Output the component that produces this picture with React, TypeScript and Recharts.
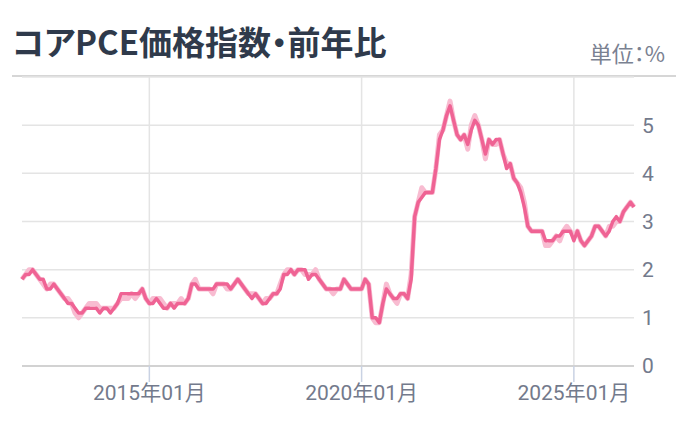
import React from 'react';
import { LineChart, Line, XAxis, YAxis, CartesianGrid, ReferenceLine } from 'recharts';

// Monthly categories: 2012-01 .. 2026-06
const START_YEAR = 2012;
const MONTH_COUNT = 174;
const months: string[] = [];
for (let i = 0; i < MONTH_COUNT; i++) {
  const y = START_YEAR + Math.floor(i / 12);
  const m = (i % 12) + 1;
  months.push(`${y}-${String(m).padStart(2, '0')}`);
}

// Core PCE YoY (%), main series
const corePce: number[] = [
  1.8, 1.9, 1.9, 2.0, 1.9, 1.8, 1.8, 1.6, 1.6, 1.7, 1.6, 1.5,
  1.4, 1.3, 1.3, 1.2, 1.1, 1.1, 1.2, 1.2, 1.2, 1.2, 1.1, 1.2,
  1.2, 1.1, 1.2, 1.3, 1.5, 1.5, 1.5, 1.5, 1.5, 1.5, 1.6, 1.4,
  1.3, 1.3, 1.4, 1.3, 1.2, 1.2, 1.3, 1.2, 1.3, 1.3, 1.3, 1.4,
  1.7, 1.7, 1.6, 1.6, 1.6, 1.6, 1.6, 1.7, 1.7, 1.7, 1.7, 1.6,
  1.7, 1.8, 1.7, 1.6, 1.5, 1.4, 1.5, 1.4, 1.3, 1.3, 1.4, 1.5,
  1.5, 1.6, 1.9, 1.9, 2.0, 1.9, 2.0, 2.0, 2.0, 1.8, 1.9, 1.9,
  1.8, 1.7, 1.6, 1.6, 1.6, 1.6, 1.6, 1.8, 1.7, 1.6, 1.6, 1.6,
  1.6, 1.8, 1.7, 1.0, 1.0, 0.9, 1.3, 1.6, 1.5, 1.4, 1.4, 1.5,
  1.5, 1.4, 1.8, 3.1, 3.4, 3.5, 3.6, 3.6, 3.6, 4.1, 4.7, 4.9,
  5.2, 5.4, 5.1, 4.8, 4.7, 4.8, 4.6, 4.9, 5.1, 5.0, 4.7, 4.4,
  4.7, 4.6, 4.7, 4.7, 4.4, 4.1, 4.2, 3.9, 3.8, 3.6, 3.3, 2.9,
  2.8, 2.8, 2.8, 2.8, 2.6, 2.6, 2.6, 2.7, 2.7, 2.8, 2.8, 2.8,
  2.6, 2.8, 2.6, 2.5, 2.6, 2.7, 2.9, 2.9, 2.8, 2.7, 2.8, 3.0,
  3.1, 3.0, 3.2, 3.3, 3.4, 3.3,
];

// Lighter companion series (earlier vintage)
const corePcePrev: number[] = [
  1.8, 1.9, 2.0, 2.0, 1.9, 1.8, 1.7, 1.6, 1.7, 1.7, 1.6, 1.5,
  1.4, 1.4, 1.3, 1.1, 1.0, 1.1, 1.2, 1.3, 1.3, 1.3, 1.2, 1.2,
  1.2, 1.2, 1.2, 1.3, 1.4, 1.4, 1.4, 1.5, 1.4, 1.5, 1.6, 1.4,
  1.3, 1.4, 1.4, 1.4, 1.3, 1.2, 1.3, 1.3, 1.3, 1.4, 1.3, 1.4,
  1.7, 1.8, 1.6, 1.6, 1.6, 1.6, 1.5, 1.7, 1.7, 1.7, 1.6, 1.6,
  1.7, 1.8, 1.7, 1.6, 1.5, 1.5, 1.5, 1.4, 1.3, 1.4, 1.4, 1.5,
  1.5, 1.7, 1.9, 2.0, 2.0, 1.9, 2.0, 2.0, 1.9, 1.9, 1.9, 2.0,
  1.8, 1.7, 1.6, 1.6, 1.5, 1.6, 1.6, 1.8, 1.7, 1.6, 1.6, 1.6,
  1.6, 1.8, 1.7, 1.0, 0.9, 0.9, 1.3, 1.7, 1.5, 1.4, 1.3, 1.5,
  1.5, 1.4, 1.9, 3.1, 3.4, 3.7, 3.6, 3.6, 3.6, 4.1, 4.8, 4.9,
  5.2, 5.5, 5.1, 4.8, 4.7, 4.8, 4.5, 5.0, 5.2, 5.0, 4.7, 4.3,
  4.7, 4.6, 4.6, 4.7, 4.4, 4.2, 4.2, 3.9, 3.8, 3.7, 3.4, 2.9,
  2.8, 2.8, 2.8, 2.8, 2.5, 2.5, 2.6, 2.7, 2.6, 2.8, 2.9, 2.8,
  2.7, 2.8, 2.6, 2.5, 2.6, 2.7, 2.9, 2.9, 2.8, 2.7, 2.9, 2.9,
  3.0, 3.0, 3.2, 3.3, 3.4, 3.3,
];

const xTicks: string[] = ['2015-01', '2020-01', '2025-01'];
const yTicks: number[] = [0, 1, 2, 3, 4, 5];

const data = months.map((month, i) => ({
  month,
  main: corePce[i],
  prev: corePcePrev[i],
}));

const fmtMonth = (v: string) => {
  const [y, m] = v.split('-');
  return `${y}年${m}月`;
};

const FONT = "Roboto, 'Noto Sans CJK JP', sans-serif";

export default function App() {
  return (
    <div
      style={{
        position: 'absolute',
        left: 0,
        top: 0,
        width: 676,
        height: 438,
        background: '#fff',
        fontFamily: FONT,
        overflow: 'hidden',
      }}
    >
      <div
        style={{
          position: 'absolute',
          left: 12,
          top: 17,
          fontSize: 33,
          fontWeight: 700,
          color: '#2f3a4b',
          fontFamily: "'Noto Sans CJK JP', sans-serif",
          fontFeatureSettings: "'palt'",
          whiteSpace: 'nowrap',
        }}
      >
        コアPCE価格指数・前年比
      </div>
      <div
        style={{
          position: 'absolute',
          right: 11,
          top: 36,
          fontSize: 22,
          color: '#7a8191',
          fontFamily: "'Noto Sans CJK JP', sans-serif",
          fontFeatureSettings: "'palt'",
          whiteSpace: 'nowrap',
        }}
      >
        単位：%
      </div>
      <div
        style={{
          position: 'absolute',
          left: 12,
          right: 0,
          top: 75,
          height: 0,
          borderTop: '2px solid #d6d6d6',
        }}
      />
      <div style={{ position: 'absolute', left: 0, top: 0 }}>
        <LineChart
          width={676}
          height={438}
          data={data}
          margin={{ top: 77, right: 0, bottom: 22, left: 22 }}
        >
          <CartesianGrid stroke="#e4e4e4" strokeWidth={1.5} vertical={false} />
          {xTicks.map((t) => (
            <ReferenceLine key={t} x={t} stroke="#e4e4e4" strokeWidth={1.5} />
          ))}
          <XAxis
            dataKey="month"
            ticks={xTicks}
            interval={0}
            tickFormatter={fmtMonth}
            height={50}
            axisLine={{ stroke: '#d2d2d2', strokeWidth: 2 }}
            tickLine={{ stroke: '#c9d2e3', strokeWidth: 1.5 }}
            tickSize={16}
            tickMargin={3}
            tick={{ fill: '#737a8c', fontSize: 21 }}
          />
          <YAxis
            orientation="right"
            domain={[0, 6]}
            ticks={yTicks}
            width={42}
            axisLine={false}
            tickLine={false}
            tick={{ fill: '#737a8c', fontSize: 21 }}
          />
          <Line
            type="linear"
            dataKey="prev"
            stroke="#f8bcd1"
            strokeWidth={5}
            dot={false}
            strokeLinejoin="round"
            isAnimationActive={false}
          />
          <Line
            type="linear"
            dataKey="main"
            stroke="#ef6394"
            strokeWidth={3.5}
            dot={false}
            strokeLinejoin="round"
            isAnimationActive={false}
          />
        </LineChart>
      </div>
    </div>
  );
}
